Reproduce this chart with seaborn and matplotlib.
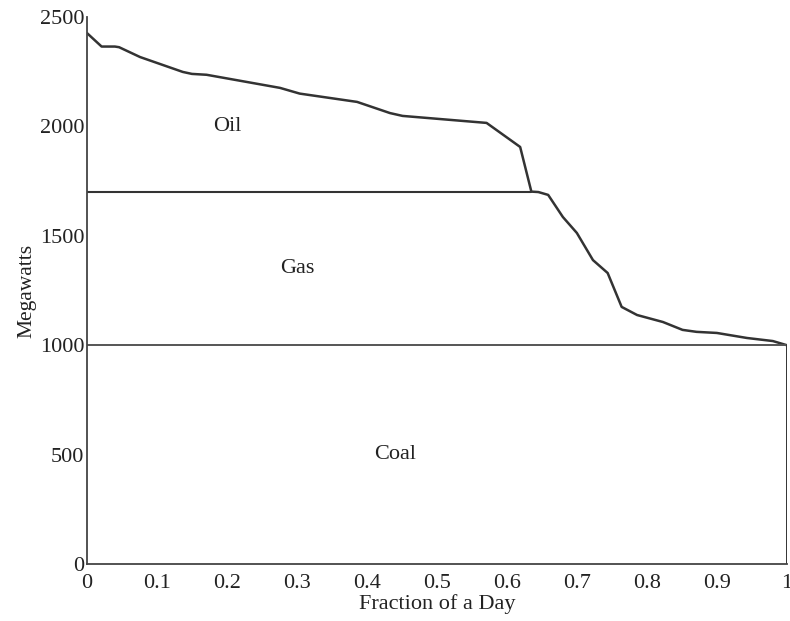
import matplotlib
matplotlib.use("Agg")
import matplotlib.pyplot as plt
import seaborn as sns
import pandas as pd

# Load duration curve (fraction of day vs megawatts)
frac = [0.0, 0.021, 0.040, 0.046, 0.076, 0.137, 0.150, 0.171, 0.276, 0.304,
        0.386, 0.433, 0.451, 0.571, 0.609, 0.619, 0.635, 0.645, 0.659, 0.680,
        0.700, 0.723, 0.744, 0.764, 0.786, 0.823, 0.851, 0.871, 0.900, 0.943,
        0.980, 1.000]
load = [2427, 2365, 2365, 2362, 2317, 2249, 2240, 2236, 2176, 2150,
        2112, 2061, 2048, 2016, 1929, 1906, 1702, 1700, 1687, 1586,
        1513, 1389, 1330, 1175, 1138, 1106, 1070, 1061, 1056, 1033,
        1019, 1000]

# Generation tiers
coal_cap = 1000
gas_cap = 1700
gas_end = 0.635
tier_names = ["Oil", "Gas", "Coal"]
tier_label_x = [0.20, 0.30, 0.44]
tier_label_y = [2000, 1350, 500]

x_ticks = [0, 0.1, 0.2, 0.3, 0.4, 0.5, 0.6, 0.7, 0.8, 0.9, 1]
x_tick_labels = ["0", "0.1", "0.2", "0.3", "0.4", "0.5", "0.6", "0.7", "0.8", "0.9", "1"]
y_ticks = [0, 500, 1000, 1500, 2000, 2500]

sns.set_theme(style="white")
plt.rcParams["font.family"] = ["Liberation Serif", "DejaVu Serif"]

fig = plt.figure(figsize=(7.9, 6.21), dpi=100)
ax = fig.add_axes([0.110, 0.0918, 0.886, 0.8808])

col = "#333333"
df = pd.DataFrame({"frac": frac, "load": load})
sns.lineplot(data=df, x="frac", y="load", ax=ax, color=col, lw=1.8, estimator=None, sort=False)

coal_df = pd.DataFrame({"x": [0, 1], "y": [coal_cap, coal_cap]})
sns.lineplot(data=coal_df, x="x", y="y", ax=ax, color="#555555", lw=1.4, estimator=None)
gas_df = pd.DataFrame({"x": [0, gas_end], "y": [gas_cap, gas_cap]})
sns.lineplot(data=gas_df, x="x", y="y", ax=ax, color=col, lw=1.5, estimator=None)
end_df = pd.DataFrame({"x": [1, 1], "y": [0, coal_cap]})
sns.lineplot(data=end_df, x="x", y="y", ax=ax, color=col, lw=1.4, estimator=None, sort=False)

for name, tx, ty in zip(tier_names, tier_label_x, tier_label_y):
    ax.text(tx, ty, name, fontsize=16, ha="center", va="center", color="#222222")

ax.set_xlim(0, 1)
ax.set_ylim(0, 2500)
ax.set_xticks(x_ticks)
ax.set_xticklabels(x_tick_labels)
ax.set_yticks(y_ticks)
ax.tick_params(axis="both", direction="in", length=5, width=1, colors="#222222",
               labelsize=16, pad=2)
ax.tick_params(axis="x", pad=7)
ax.set_xlabel("Fraction of a Day", fontsize=16, labelpad=1, color="#222222")
ax.set_ylabel("Megawatts", fontsize=15.5, labelpad=2, color="#222222")

for s in ["top", "right"]:
    ax.spines[s].set_visible(False)
for s in ["left", "bottom"]:
    ax.spines[s].set_color("#444444")
    ax.spines[s].set_linewidth(1.3)

fig.savefig("out.png", dpi=100)
